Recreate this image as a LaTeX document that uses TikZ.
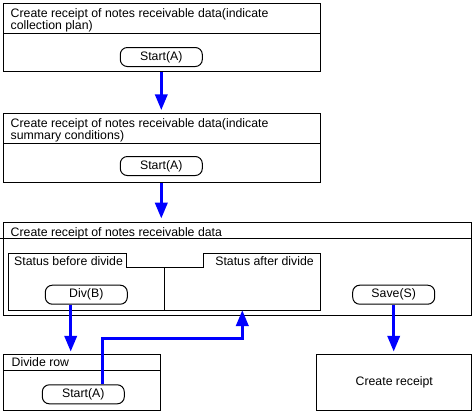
\documentclass[tikz,border=0pt]{standalone}
\usepackage{fontspec}
\setmainfont{Liberation Sans}
\usetikzlibrary{arrows.meta}

\begin{document}
\begin{tikzpicture}[x=1pt, y=-1pt, font=\fontsize{12.3}{12}\selectfont,
		box/.style={draw, line width=1pt, anchor=north west, inner sep=0pt},
		pill/.style={draw, line width=1pt, rounded corners=7pt, minimum width=82pt, minimum height=19pt, inner sep=0pt},
		lbl/.style={anchor=base west, inner sep=0pt},
		flow/.style={draw=blue, line width=3.5pt, -{Triangle[length=16pt,width=12pt]}}]
	\useasboundingbox (0,0) rectangle (473,413);
	% boxes
			\node	(plan) at (3.3,3.3) [box, minimum width=317pt, minimum height=68pt] {};
			\node	(summary) at (3.3,113.3) [box, minimum width=317pt, minimum height=69pt] {};
			\node	(data) at (3.3,221.7) [box, minimum width=468pt, minimum height=93pt] {};
			\node	(divrow) at (3.3,354.3) [box, minimum width=157pt, minimum height=56pt] {};
			\node	(receipt) at (316.3,354.3) [box, minimum width=155pt, minimum height=56pt] {Create receipt};
	% headings
			\node	(plantxt) at (10.5,8.6) [anchor=north west, inner sep=0pt, align=left] {Create receipt of notes receivable data(indicate\\collection plan)};
			\node	(summarytxt) at (10.5,118.6) [anchor=north west, inner sep=0pt, align=left] {Create receipt of notes receivable data(indicate\\summary conditions)};
			\node	(datatxt) at (10.5,236.8) [lbl] {Create receipt of notes receivable data};
			\node	(divrowtxt) at (11.5,366.8) [lbl] {Divide row};
			\draw[line width=1pt] (plan.west |- 0,33.3) -- (plan.east |- 0,33.3);
			\draw[line width=1pt] (summary.west |- 0,143.3) -- (summary.east |- 0,143.3);
			\draw[line width=1pt] (0,238) -- (data.east |- 0,238);
			\draw[line width=1pt] (divrow.west |- 0,370) -- (divrow.east |- 0,370);
	% status frame
			\draw[line width=1pt] (8.3,253.8) -- (126,253.8) -- (126,267.3) -- (203.3,267.3) -- (203.3,253.8) -- (320.7,253.8) -- (320.7,310) -- (8.3,310) -- cycle;
			\draw[line width=1pt] (164.3,267.3) -- (164.3,310);
			\coordinate	(after) at (242.3,310);
			\node	(beforetxt) at (14,265) [lbl] {Status before divide};
			\node	(aftertxt) at (314,265) [anchor=base east, inner sep=0pt] {Status after divide};
	% buttons
			\node	(startA) at (161.3,57) [pill] {Start(A)};
			\node	(startB) at (161.3,166) [pill] {Start(A)};
			\node	(divB) at (86.3,294.7) [pill] {Div(B)};
			\node	(saveS) at (393.7,294.7) [pill] {Save(S)};
			\node	(startC) at (83.3,394.3) [pill] {Start(A)};

			\draw[flow, shorten >=3pt] (plan.south -| startA) -- (summary.north -| startA);
			\draw[flow, shorten >=3pt] (summary.south -| startB) -- (data.north -| startB);
			\draw[flow, shorten >=2.5pt] ([xshift=-15.6pt]divB.south) -- ([xshift=-15.6pt]divB.south |- divrow.north);
			\draw[flow, shorten >=2.5pt] (saveS.south) -- (saveS.south |- receipt.north);
			\draw[flow] ([xshift=19pt]startC.north) |- (0,338.3 -| after) -- (after);
\end{tikzpicture}
\end{document}
